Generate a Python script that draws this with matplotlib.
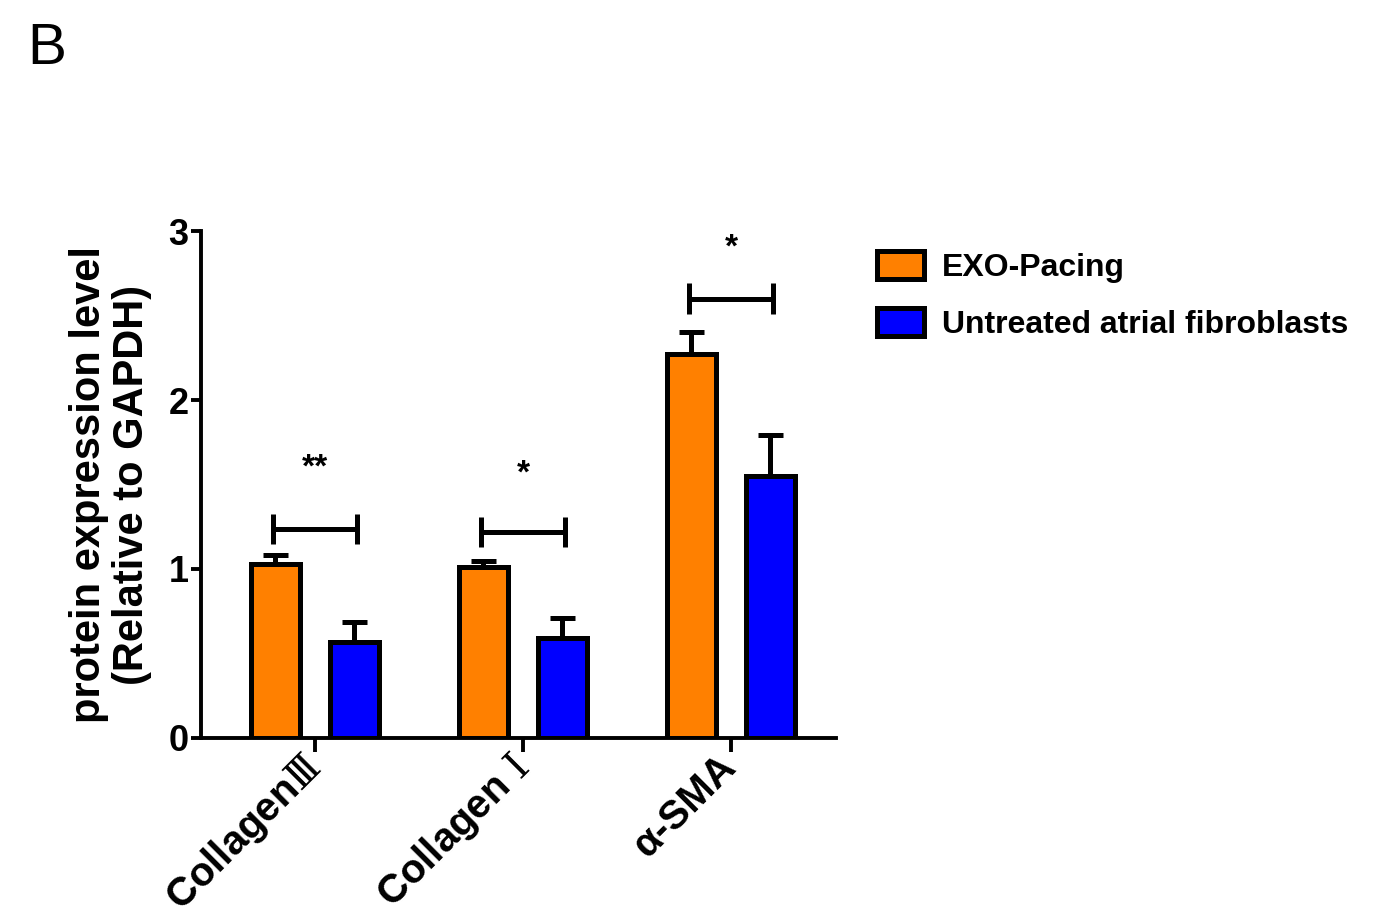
import numpy as np
import matplotlib
matplotlib.use('Agg')
import matplotlib.pyplot as plt
import matplotlib.transforms as mtransforms
from matplotlib.patches import Patch

plt.rcParams['font.family'] = ['Liberation Sans', 'Noto Sans CJK SC', 'DejaVu Sans']
plt.rcParams['font.weight'] = 'bold'
plt.rcParams['mathtext.fontset'] = 'custom'
plt.rcParams['mathtext.rm'] = 'DejaVu Serif:normal'

# protein levels relative to GAPDH (mean and SEM)
categories = [r'Collagen$\mathrm{Ⅲ}$', r'Collagen $\mathrm{Ⅰ}$', 'α-SMA']
exo_mean = [1.03, 1.01, 2.27]
exo_err = [0.05, 0.04, 0.13]
ctl_mean = [0.57, 0.59, 1.55]
ctl_err = [0.115, 0.12, 0.24]
sig_labels = ['**', '*', '*']
sig_bar_y = [1.235, 1.22, 2.60]
sig_text_y = [1.60, 1.56, 2.90]

orange = '#FF8000'
blue = '#0000FF'

fig = plt.figure(figsize=(13.85, 9.19), dpi=100)
ax = fig.add_axes([0.1451, 0.1970, 0.4585, 0.5516])

x = np.arange(len(categories))
off = 0.19
w = 0.235

ax.bar(x - off, exo_mean, w, color=orange, edgecolor='black', linewidth=3.6, zorder=3)
ax.bar(x + off, ctl_mean, w, color=blue, edgecolor='black', linewidth=3.6, zorder=3)

# upward-only error bars
for xs, m, e in [(x - off, exo_mean, exo_err), (x + off, ctl_mean, ctl_err)]:
    ax.errorbar(xs, m, yerr=[np.zeros(len(e)), e], fmt='none', ecolor='black',
                elinewidth=3.6, capsize=9, capthick=3.6, zorder=2)

# significance brackets
for i in range(len(categories)):
    ax.errorbar([x[i] - 0.2, x[i] + 0.2], [sig_bar_y[i]] * 2, yerr=0.09,
                color='black', elinewidth=3.6, capsize=0, lw=3.6, zorder=4)
    ax.plot([x[i] - 0.2, x[i] + 0.2], [sig_bar_y[i]] * 2, color='black', lw=3.6,
            solid_capstyle='butt', zorder=4)
    ax.text(x[i], sig_text_y[i], sig_labels[i], ha='center', va='center',
            fontsize=24, fontweight='bold')

ax.set_xlim(-0.548, 2.505)
ax.set_ylim(0, 3)
ax.set_yticks([0, 1, 2, 3])
ax.set_yticklabels(['0', '1', '2', '3'], fontsize=26, fontweight='bold')
ax.set_xticks(x)
ax.set_xticklabels([''] * len(categories))

# rotated category labels, placed just below-left of each tick
lab_tf = ax.get_xaxis_transform() + mtransforms.ScaledTranslation(
    -14 / 100, -9 / 100, fig.dpi_scale_trans)
for xi, name in zip(x, categories):
    ax.text(xi, 0, name, transform=lab_tf, rotation=45, ha='right', va='top',
            rotation_mode='anchor', fontsize=29, fontweight='bold')

ax.spines['top'].set_visible(False)
ax.spines['right'].set_visible(False)
ax.spines['left'].set_linewidth(2.8)
ax.spines['bottom'].set_linewidth(2.8)
ax.tick_params(axis='y', length=7, width=2.8, pad=2)
ax.tick_params(axis='x', length=10, width=2.8, pad=4)

ax.set_ylabel('protein expression level\n(Relative to GAPDH)', fontsize=30,
              fontweight='bold', linespacing=1.1, labelpad=12)

handles = [Patch(facecolor=orange, edgecolor='black', linewidth=3.6, label='EXO-Pacing'),
           Patch(facecolor=blue, edgecolor='black', linewidth=3.6, label='Untreated atrial fibroblasts')]
fig.legend(handles=handles, loc='upper left', bbox_to_anchor=(0.6335, 0.727),
           frameon=False, prop={'size': 23, 'weight': 'bold'},
           handlelength=1.47, handleheight=0.97, handletextpad=0.55, labelspacing=0.8,
           borderaxespad=0, borderpad=0)

fig.text(0.02, 0.976, 'B', fontsize=42, fontweight='normal', va='top', ha='left')

fig.savefig('out.png', dpi=100)
